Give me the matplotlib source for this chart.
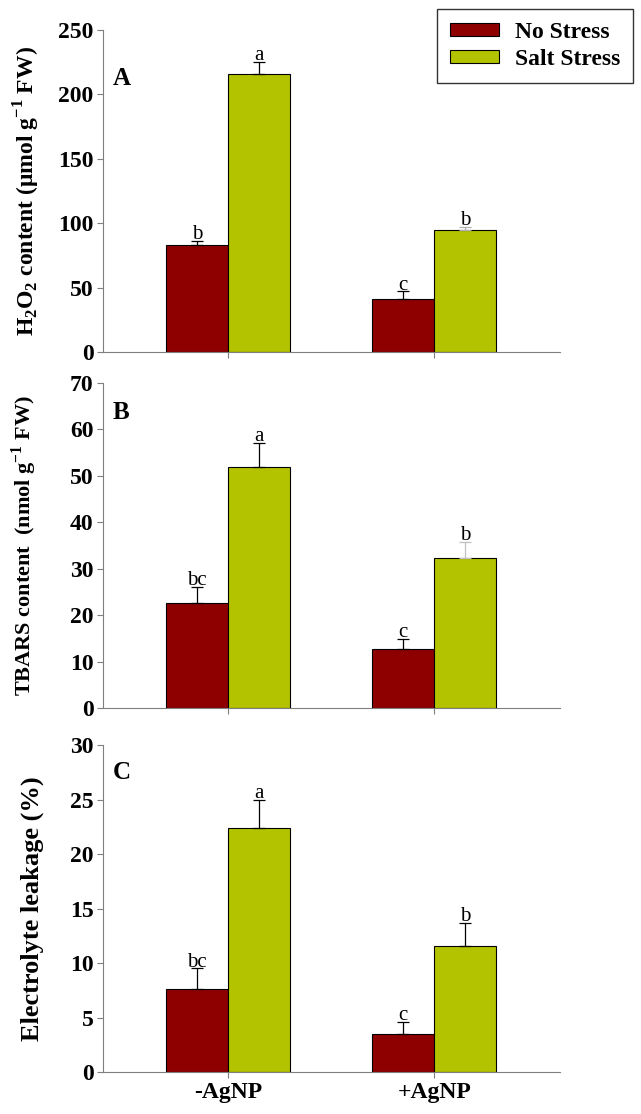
import numpy as np
import matplotlib
matplotlib.use('Agg')
import matplotlib.pyplot as plt

plt.rcParams['font.family'] = ['Liberation Serif', 'DejaVu Serif']
plt.rcParams['mathtext.fontset'] = 'custom'
plt.rcParams['mathtext.rm'] = 'Liberation Serif:bold'
plt.rcParams['mathtext.bf'] = 'Liberation Serif:bold'

# Data
groups = ['-AgNP', '+AgNP']
series = ['No Stress', 'Salt Stress']

h2o2_no = [83, 41]
h2o2_salt = [216, 95]
h2o2_no_err = [3, 6]
h2o2_salt_err = [9, 2]
h2o2_letters_no = ['b', 'c']
h2o2_letters_salt = ['a', 'b']

tbars_no = [22.7, 12.7]
tbars_salt = [51.8, 32.3]
tbars_no_err = [3.3, 2.1]
tbars_salt_err = [5.3, 3.5]
tbars_letters_no = ['bc', 'c']
tbars_letters_salt = ['a', 'b']

el_no = [7.6, 3.5]
el_salt = [22.4, 11.6]
el_no_err = [1.9, 1.1]
el_salt_err = [2.6, 2.1]
el_letters_no = ['bc', 'c']
el_letters_salt = ['a', 'b']

RED = '#8e0000'
GREEN = '#b4c300'
AXC = '#7f7f7f'

fig = plt.figure(figsize=(6.41, 11.14), dpi=100)

# axes rects [left, bottom, width, height]
rects = [
    [0.161, 0.684, 0.713, 0.289],
    [0.161, 0.3645, 0.713, 0.2917],
    [0.161, 0.0377, 0.713, 0.2935],
]

# ylabel font size, ylabel x coord, tag y position
label_style = [(17, -0.135, 0.85), (16, -0.14, 0.91), (19, -0.13, 0.915)]

panels = [
    (h2o2_no, h2o2_salt, h2o2_no_err, h2o2_salt_err, h2o2_letters_no, h2o2_letters_salt,
     250, 50, 'A', r'$\mathbf{H_2O_2}$ content ($\mathbf{\mu}$mol g$^{\mathbf{-1}}$ FW)', '#b0b0b0'),
    (tbars_no, tbars_salt, tbars_no_err, tbars_salt_err, tbars_letters_no, tbars_letters_salt,
     70, 10, 'B', r'TBARS content  (nmol g$^{\mathbf{-1}}$ FW)', '#c0c0c0'),
    (el_no, el_salt, el_no_err, el_salt_err, el_letters_no, el_letters_salt,
     30, 5, 'C', 'Electrolyte leakage (%)', 'black'),
]

x = np.arange(len(groups))
w = 0.30

for i, (rect, p) in enumerate(zip(rects, panels)):
    no, salt, no_e, salt_e, lt_no, lt_salt, ymax, step, tag, ylabel, ecol2 = p
    lab_fs, lab_x, tag_y = label_style[i]
    ax = fig.add_axes(rect)
    b1 = ax.bar(x - w / 2, no, w, color=RED, edgecolor='black', linewidth=0.8, label=series[0], zorder=2)
    b2 = ax.bar(x + w / 2, salt, w, color=GREEN, edgecolor='black', linewidth=0.8, label=series[1], zorder=2)
    for j in range(len(groups)):
        ax.errorbar(x[j] - w / 2, no[j], yerr=[[0], [no_e[j]]], fmt='none', ecolor='black',
                    elinewidth=0.9, capsize=4, capthick=0.9, zorder=3)
        ax.errorbar(x[j] + w / 2, salt[j], yerr=[[0], [salt_e[j]]], fmt='none',
                    ecolor='black' if j == 0 else ecol2,
                    elinewidth=0.9, capsize=4, capthick=0.9, zorder=3)
        ax.text(x[j] - w / 2, no[j] + no_e[j] - ymax * 0.010, lt_no[j], ha='center', va='bottom', fontsize=15)
        ax.text(x[j] + w / 2, salt[j] + salt_e[j] - ymax * 0.010, lt_salt[j], ha='center', va='bottom', fontsize=15)

    ax.set_xlim(-0.607, 1.612)
    ax.set_ylim(0, ymax)
    ticks = np.arange(0, ymax + 1e-9, step)
    ax.set_yticks(ticks)
    ax.set_yticklabels([f'{int(v)}' for v in ticks], fontsize=17, fontweight='bold')
    ax.set_xticks(x)
    if i == 2:
        ax.set_xticklabels(groups, fontsize=17, fontweight='bold')
    else:
        ax.set_xticklabels([])
    ax.spines['top'].set_visible(False)
    ax.spines['right'].set_visible(False)
    ax.spines['left'].set_color(AXC)
    ax.spines['bottom'].set_color(AXC)
    ax.tick_params(axis='both', colors=AXC, length=4, width=0.8, labelcolor='black', pad=3)
    ax.set_ylabel(ylabel, fontsize=lab_fs, fontweight='bold')
    ax.yaxis.set_label_coords(lab_x, 0.5)
    ax.text(0.04, tag_y, tag, transform=ax.transAxes, fontsize=18, fontweight='bold',
            ha='center', va='center')

    if i == 0:
        leg = fig.legend(handles=[b1, b2], labels=series, loc='upper right',
                         bbox_to_anchor=(0.9875, 0.992), frameon=True, fancybox=False,
                         edgecolor='black', handlelength=2.1, handleheight=0.45,
                         handletextpad=0.65, borderpad=0.55, labelspacing=0.25,
                         borderaxespad=0, prop={'size': 17, 'weight': 'bold'})
        leg.get_frame().set_linewidth(1.0)

fig.savefig('out.png', dpi=100)
